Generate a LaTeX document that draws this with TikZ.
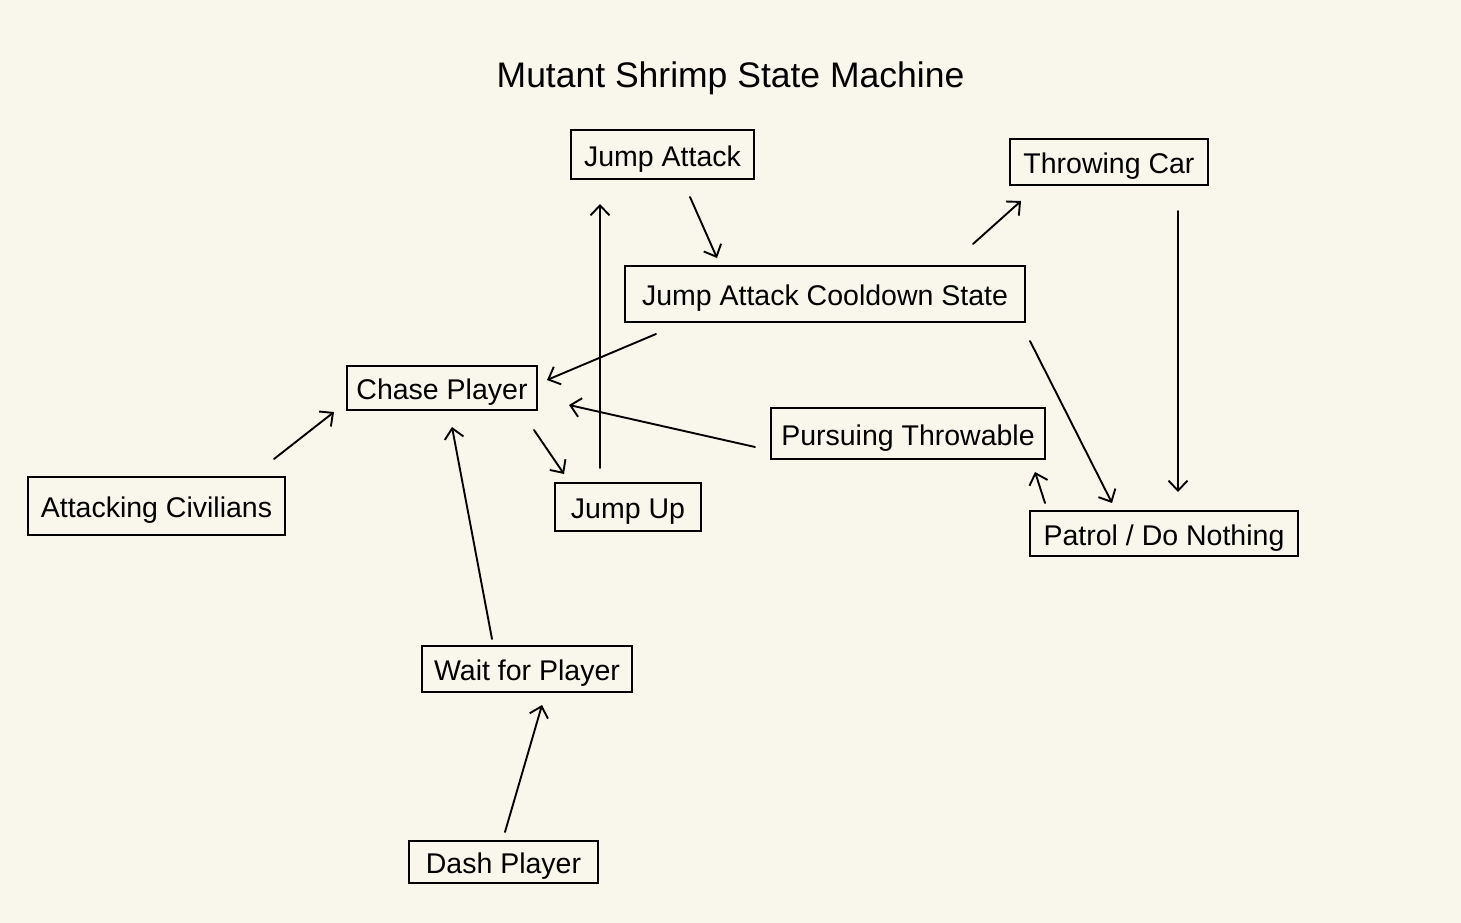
\documentclass[tikz,border=0pt]{standalone}
\usepackage{fontspec}
\setmainfont{Liberation Sans}
\usetikzlibrary{arrows.meta}
\definecolor{bg}{HTML}{F9F7EB}
\begin{document}
\begin{tikzpicture}[x=1pt,y=-1pt,
  state/.style={draw=black,line width=1.7pt,inner sep=0pt,text height=29pt,text depth=6pt,font=\fontsize{28.5}{30}\selectfont},
  arr/.style={draw=black,line width=1.9pt,line cap=round,-{Straight Barb[length=10pt,width=19pt,line width=1.9pt]}},
  ttl/.style={font=\fontsize{35.5}{38}\selectfont}]
\fill[bg] (0,0) rectangle (1461,923);
\useasboundingbox (0,0) rectangle (1461,923);
\node[ttl] (title) at (730.5,78) {Mutant Shrimp State Machine};
\node[state,minimum width=183pt,minimum height=49pt] (ja) at (662.5,154.5) {Jump Attack};
\node[state,minimum width=198pt,minimum height=46pt] (tc) at (1109,162) {Throwing Car};
\node[state,minimum width=400pt,minimum height=56pt] (cd) at (825,294) {Jump Attack Cooldown State};
\node[state,minimum width=190pt,minimum height=44pt] (cp) at (442,388) {Chase Player};
\node[state,minimum width=274pt,minimum height=51pt] (pt) at (908,433.5) {Pursuing Throwable};
\node[state,minimum width=257pt,minimum height=58pt] (ac) at (156.5,506) {Attacking Civilians};
\node[state,minimum width=146pt,minimum height=48pt] (ju) at (628,507) {Jump Up};
\node[state,minimum width=268pt,minimum height=45pt] (pd) at (1164,533.5) {Patrol / Do Nothing};
\node[state,minimum width=210pt,minimum height=46pt] (wp) at (527,669) {Wait for Player};
\node[state,minimum width=189pt,minimum height=42pt] (dp) at (503.5,862) {Dash Player};
% connectors
\draw[arr] ([shift={(27.5,42.5)}]ja.center) -- ([shift={(-108,-36)}]cd.center);
\draw[arr] ([shift={(148,-50)}]cd.center) -- ([shift={(-88,39)}]tc.center);
\draw[arr] ([shift={(69,49)}]tc.center) -- ([shift={(14,-41.5)}]pd.center);
\draw[arr] ([shift={(205,47)}]cd.center) -- ([shift={(-52,-30.5)}]pd.center);
\draw[arr] ([shift={(-119,-30.5)}]pd.center) -- ([shift={(127,38.5)}]pt.center);
\draw[arr] ([shift={(-169,40)}]cd.center) -- ([shift={(105,-8)}]cp.center);
\draw[arr] ([shift={(-153,13.5)}]pt.center) -- ([shift={(127,17)}]cp.center);
\draw[arr] ([shift={(-28,-39)}]ju.center) -- ([shift={(-62.5,49.5)}]ja.center);
\draw[arr] ([shift={(92,42)}]cp.center) -- ([shift={(-64,-33)}]ju.center);
\draw[arr] ([shift={(117.5,-47)}]ac.center) -- ([shift={(-108,24)}]cp.center);
\draw[arr] ([shift={(-35,-30)}]wp.center) -- ([shift={(10,39)}]cp.center);
\draw[arr] ([shift={(1.5,-30)}]dp.center) -- ([shift={(15,36)}]wp.center);
\end{tikzpicture}
\end{document}
